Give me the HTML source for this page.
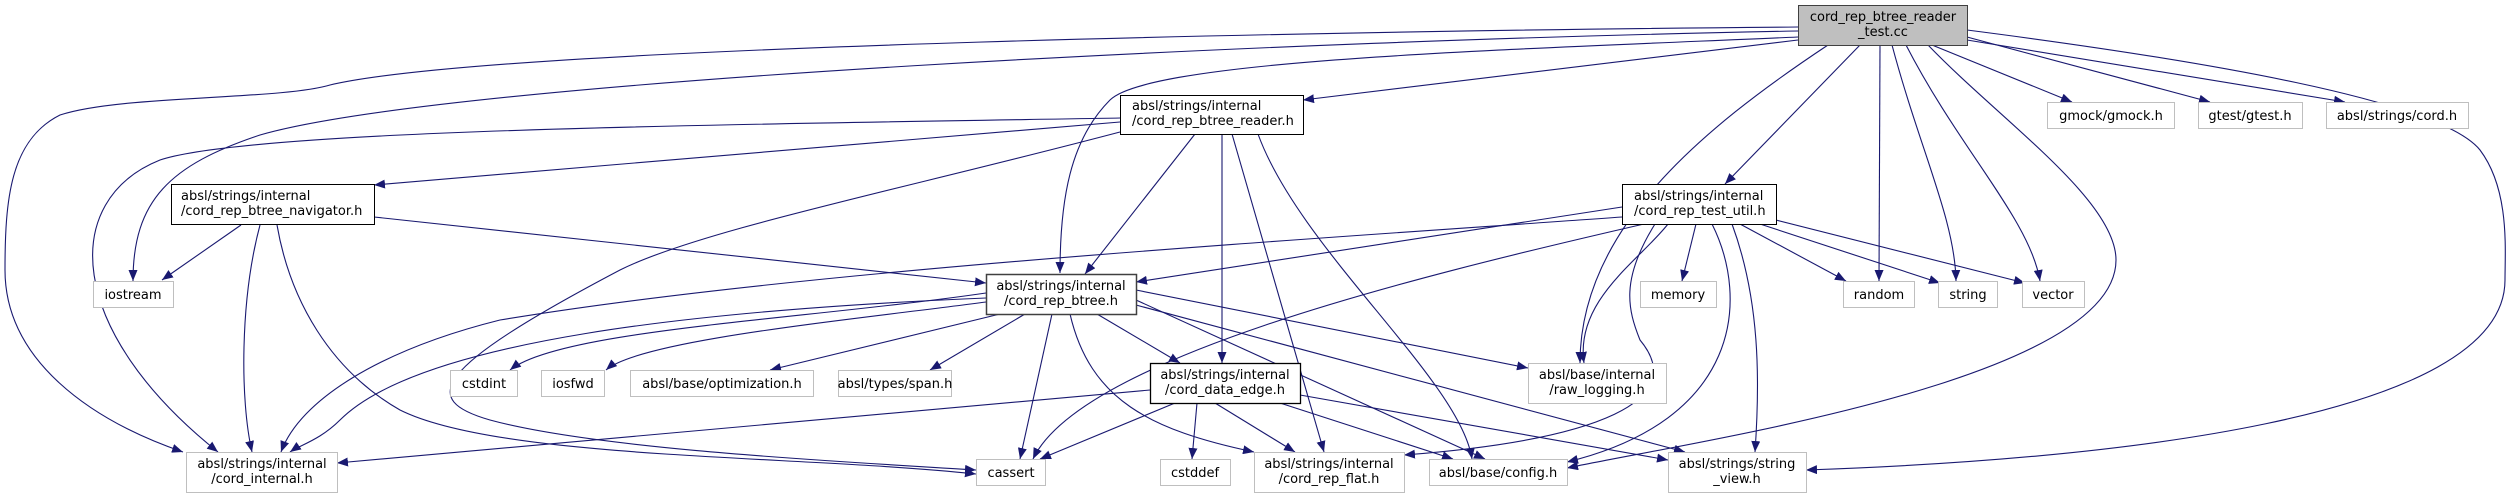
<!DOCTYPE html>
<html><head><meta charset="utf-8"><style>
html,body{margin:0;padding:0;background:#fff;}
svg{display:block;}
text{font-family:"DejaVu Sans","Liberation Sans",sans-serif;font-size:13px;fill:#000;}
</style></head><body>
<svg width="2514" height="499" viewBox="0 0 2514 499" xmlns="http://www.w3.org/2000/svg">
<defs>
<marker id="a" markerUnits="userSpaceOnUse" markerWidth="12" markerHeight="9" refX="11" refY="4.5" orient="auto">
<path d="M0,0 L11,4.5 L0,9 z" fill="#191970"/>
</marker>
</defs>
<g fill="none" stroke="#191970" stroke-width="1.1" marker-end="url(#a)">
<!-- root edges -->
<path d="M1798,27 C1400,30 500,45 330,85 C280,100 120,95 60,115 C10,140 5,200 5,270 C5,360 90,420 183,452"/>
<path d="M1798,31 C1300,40 450,80 260,135 C170,165 133,200 133,281"/>
<path d="M1798,37 C1500,50 1150,60 1110,100 C1070,140 1060,200 1060,273"/>
<path d="M1798,40 L1303,100"/>
<path d="M1860,45 L1725,184"/>
<path d="M1828,45 C1700,130 1580,230 1580,363"/>
<path d="M1880,45 L1879,281"/>
<path d="M1892,45 C1920,150 1955,220 1956,281"/>
<path d="M1906,45 C1960,150 2030,220 2040,281"/>
<path d="M1928,45 C2000,120 2116,200 2116,260 C2116,380 1700,440 1567,468"/>
<path d="M1932,45 L2072,102"/>
<path d="M1967,37 L2210,102"/>
<path d="M1967,40 L2345,102"/>
<path d="M1967,30 C2200,60 2440,100 2480,150 C2510,190 2505,250 2505,280 C2505,420 2100,460 1806,470"/>
<!-- reader edges -->
<path d="M1120,122 C800,150 550,170 374,185"/>
<path d="M1120,118 C700,125 250,130 160,160 C60,200 65,330 218,452"/>
<path d="M1120,132 C900,190 700,230 620,270 C430,370 420,400 490,420 C600,450 850,462 976,470"/>
<path d="M1195,134 L1085,274"/>
<path d="M1222,134 L1222,363"/>
<path d="M1232,134 L1324,452"/>
<path d="M1258,134 C1300,250 1460,380 1472,459"/>
<!-- navigator -->
<path d="M241,225 L162,280"/>
<path d="M260,225 C240,300 240,400 252,452"/>
<path d="M277,225 C290,300 330,370 400,410 C500,460 800,455 976,474"/>
<path d="M374,217 L986,283"/>
<!-- test util -->
<path d="M1622,207 L1136,282"/>
<path d="M1622,217 C1300,240 800,270 500,320 C380,350 300,400 281,452"/>
<path d="M1644,224 C1400,280 1080,360 1033,459"/>
<path d="M1668,224 C1640,260 1575,300 1584,363"/>
<path d="M1655,224 C1620,280 1628,310 1640,340 C1690,400 1600,440 1404,455"/>
<path d="M1696,224 L1682,281"/>
<path d="M1712,224 C1750,300 1740,420 1567,462"/>
<path d="M1732,224 C1760,300 1760,380 1755,452"/>
<path d="M1740,224 L1846,281"/>
<path d="M1760,224 L1940,283"/>
<path d="M1776,220 L2025,283"/>
<!-- btree -->
<path d="M986,298 C700,310 420,340 340,420 C320,440 300,445 290,452"/>
<path d="M986,293 C800,320 560,330 510,370"/>
<path d="M986,302 C850,320 640,340 606,370"/>
<path d="M1000,314 L770,370"/>
<path d="M1025,314 L930,370"/>
<path d="M1052,314 L1020,459"/>
<path d="M1097,314 L1180,363"/>
<path d="M1070,314 C1090,400 1150,430 1254,452"/>
<path d="M1136,300 L1485,459"/>
<path d="M1136,290 L1528,368"/>
<path d="M1136,305 L1685,452"/>
<!-- data edge -->
<path d="M1150,390 L337,463"/>
<path d="M1175,403 L1040,459"/>
<path d="M1197,403 L1192,459"/>
<path d="M1215,403 L1295,452"/>
<path d="M1280,403 L1453,459"/>
<path d="M1300,395 L1668,460"/>
</g>
<!-- nodes -->
<g stroke-width="1">
<rect x="1798.5" y="5.5" width="169" height="40" fill="#bfbfbf" stroke="#404040"/>
<rect x="1120.5" y="95.5" width="183" height="39" fill="#fff" stroke="#000"/>
<rect x="171.5" y="184.5" width="203" height="40" fill="#fff" stroke="#000"/>
<rect x="1622.5" y="184.5" width="154" height="40" fill="#fff" stroke="#000"/>
<rect x="986.5" y="274.5" width="150" height="40" fill="#fff" stroke="#404040" stroke-width="1.5"/>
<rect x="1150.5" y="363.5" width="150" height="40" fill="#fff" stroke="#000" stroke-width="1.3"/>
<g fill="#fff" stroke="#bfbfbf">
<rect x="2047.5" y="102.5" width="127" height="26"/>
<rect x="2198.5" y="102.5" width="104" height="26"/>
<rect x="2326.5" y="102.5" width="142" height="26"/>
<rect x="93.5" y="281.5" width="80" height="26"/>
<rect x="1640.5" y="281.5" width="76" height="26"/>
<rect x="1843.5" y="281.5" width="71" height="26"/>
<rect x="1938.5" y="281.5" width="59" height="26"/>
<rect x="2022.5" y="281.5" width="62" height="26"/>
<rect x="450.5" y="370.5" width="67" height="26"/>
<rect x="541.5" y="370.5" width="63" height="26"/>
<rect x="630.5" y="370.5" width="183" height="26"/>
<rect x="838.5" y="370.5" width="113" height="26"/>
<rect x="1528.5" y="363.5" width="138" height="40"/>
<rect x="186.5" y="452.5" width="151" height="40"/>
<rect x="976.5" y="459.5" width="69" height="26"/>
<rect x="1160.5" y="459.5" width="70" height="26"/>
<rect x="1254.5" y="452.5" width="150" height="40"/>
<rect x="1429.5" y="459.5" width="138" height="26"/>
<rect x="1668.5" y="452.5" width="138" height="40"/>
</g>
</g>
<g text-anchor="middle">
<text x="1883" y="21">cord_rep_btree_reader</text><text x="1883" y="36">_test.cc</text>
<text x="2111" y="120">gmock/gmock.h</text>
<text x="2250" y="120">gtest/gtest.h</text>
<text x="2397" y="120">absl/strings/cord.h</text>
<text x="133" y="299">iostream</text>
<text x="1061" y="290">absl/strings/internal</text><text x="1061" y="305">/cord_rep_btree.h</text>
<text x="1678" y="299">memory</text>
<text x="1879" y="299">random</text>
<text x="1968" y="299">string</text>
<text x="2053" y="299">vector</text>
<text x="484" y="388">cstdint</text>
<text x="573" y="388">iosfwd</text>
<text x="722" y="388">absl/base/optimization.h</text>
<text x="895" y="388">absl/types/span.h</text>
<text x="1225" y="379">absl/strings/internal</text><text x="1225" y="394">/cord_data_edge.h</text>
<text x="1597" y="379">absl/base/internal</text><text x="1597" y="394">/raw_logging.h</text>
<text x="262" y="468">absl/strings/internal</text><text x="262" y="483">/cord_internal.h</text>
<text x="1011" y="477">cassert</text>
<text x="1195" y="477">cstddef</text>
<text x="1329" y="468">absl/strings/internal</text><text x="1329" y="483">/cord_rep_flat.h</text>
<text x="1498" y="477">absl/base/config.h</text>
<text x="1737" y="468">absl/strings/string</text><text x="1737" y="483">_view.h</text>
</g>
<g>
<text x="1132" y="110">absl/strings/internal</text><text x="1132" y="125">/cord_rep_btree_reader.h</text>
<text x="181" y="200">absl/strings/internal</text><text x="181" y="215">/cord_rep_btree_navigator.h</text>
<text x="1634" y="200">absl/strings/internal</text><text x="1634" y="215">/cord_rep_test_util.h</text>
</g>
</svg>
</body></html>
